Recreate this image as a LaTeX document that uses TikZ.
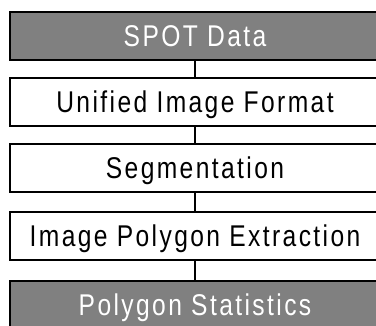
\documentclass[tikz,border=0pt]{standalone}
\usepackage{fontspec}
\setmainfont{Liberation Sans}[FakeStretch=0.82, LetterSpace=8]
\definecolor{stagegray}{RGB}{128,128,128}
\begin{document}
\begin{tikzpicture}[x=1pt,y=-1pt,
  stage/.style={draw=black, line width=2pt, minimum width=370pt, minimum height=48pt,
    inner sep=0pt, text height=21pt, text depth=0pt,
    font=\fontsize{30}{32}\selectfont},
  lightstage/.style={stage, fill=white, text=black},
  darkstage/.style={stage, fill=stagegray, text=white},
  link/.style={line width=2pt}]
\useasboundingbox (0,0) rectangle (376,326);
\clip (0,0) rectangle (376,326);
\node[darkstage]  (spot) at (195,36)    {SPOT Data};
\node[lightstage] (uif)  at (195,102)   {Unified Image Format};
\node[lightstage] (seg)  at (195,168.5) {Segmentation};
\node[lightstage] (ipe)  at (195,236)   {Image Polygon Extraction};
\node[darkstage]  (pst)  at (195,305)   {Polygon Statistics};
\draw[link] (spot.south) -- (uif.north);
\draw[link] (uif.south) -- (seg.north);
\draw[link] (seg.south) -- (ipe.north);
\draw[link] (ipe.south) -- (pst.north);
\end{tikzpicture}
\end{document}
